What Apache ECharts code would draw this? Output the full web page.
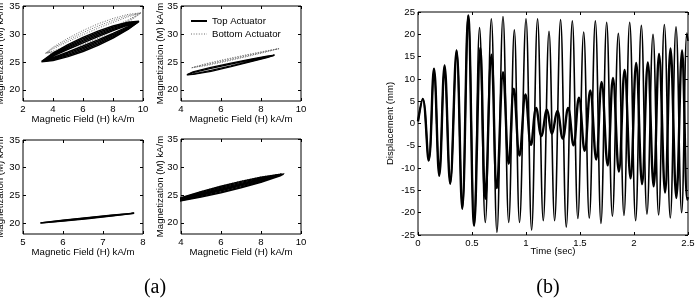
<!DOCTYPE html>
<html><head><meta charset="utf-8">
<script src="https://cdn.jsdelivr.net/npm/echarts@6/dist/echarts.min.js"></script>
<style>html,body{margin:0;padding:0;background:#fff}#c{width:698px;height:304px}</style>
</head><body><div id="c"></div>
<script>
// ---------- Panel (a): hysteresis loops, [H (kA/m), M (kA/m)] ----------
const magTicks = [20, 25, 30, 35];
const tlTop = [
  [[3.23,25.04],[4,26.55],[5,28.08],[6,29.39],[7,30.50],[8,31.41],[9,32.10],[9.73,32.26],[9,30.80],[8,29.27],[7,27.96],[6,26.85],[5,25.94],[4,25.25],[3.23,25.04]],
  [[3.3,25.1],[4,26.43],[5,27.87],[6,29.15],[7,30.26],[8,31.20],[9,31.98],[9.7,32.2],[9,30.92],[8,29.48],[7,28.20],[6,27.09],[5,26.15],[4,25.37],[3.3,25.1]],
  [[3.35,25.15],[4,26.30],[5,27.67],[6,28.90],[7,30.01],[8,31.00],[9,31.85],[9.65,32.15],[9,31.05],[8,29.68],[7,28.45],[6,27.34],[5,26.35],[4,25.50],[3.35,25.15]],
  [[3.4,25.2],[4,26.18],[5,27.46],[6,28.66],[7,29.77],[8,30.79],[9,31.73],[9.6,32.1],[9,31.17],[8,29.89],[7,28.69],[6,27.58],[5,26.56],[4,25.62],[3.4,25.2]],
  [[3.45,25.25],[4,26.05],[5,27.26],[6,28.41],[7,29.52],[8,30.59],[9,31.60],[9.55,32.05],[9,31.30],[8,30.09],[7,28.94],[6,27.83],[5,26.76],[4,25.75],[3.45,25.25]]
];
const tlBottom = [
  [[3.5,26.55],[4,27.64],[5,29.24],[6,30.62],[7,31.81],[8,32.77],[9,33.50],[9.9,33.8],[9,32.06],[8,30.53],[7,29.23],[6,28.14],[5,27.26],[4,26.60],[3.5,26.55]],
  [[3.55,26.6],[4,27.48],[5,28.93],[6,30.24],[7,31.41],[8,32.42],[9,33.28],[9.85,33.75],[9,32.28],[8,30.88],[7,29.63],[6,28.52],[5,27.57],[4,26.76],[3.55,26.6]],
  [[3.6,26.65],[4,27.32],[5,28.63],[6,29.86],[7,31.02],[8,32.08],[9,33.06],[9.8,33.7],[9,32.50],[8,31.22],[7,30.02],[6,28.90],[5,27.87],[4,26.92],[3.6,26.65]]
];
const trTop = [
  [[4.29,22.7],[4.6,23.20],[5.5,24.02],[6.5,24.78],[7.5,25.49],[8.3,26.02],[8.68,26.2],[8.3,25.78],[7.5,25.03],[6.5,24.14],[5.5,23.32],[4.6,22.75],[4.29,22.7]],
  [[4.32,22.72],[4.6,23.08],[5.5,23.85],[6.5,24.62],[7.5,25.38],[8.3,25.96],[8.65,26.18],[8.3,25.84],[7.5,25.14],[6.5,24.30],[5.5,23.49],[4.6,22.82],[4.32,22.72]]
];
const trBottom = [
  [[4.54,23.95],[5.2,24.63],[6.2,25.45],[7.2,26.21],[8.2,26.93],[8.93,27.4],[8.2,26.73],[7.2,25.87],[6.2,25.05],[5.2,24.31],[4.54,23.95]],
  [[4.56,23.97],[5.2,24.53],[6.2,25.33],[7.2,26.11],[8.2,26.87],[8.9,27.38],[8.2,26.79],[7.2,25.97],[6.2,25.17],[5.2,24.41],[4.56,23.97]]
];
const blTop = [
  [[5.43,20.0],[6,20.51],[6.6,20.97],[7.2,21.38],[7.78,21.75],[7.2,21.24],[6.6,20.77],[6,20.33],[5.43,20.0]],
  [[5.45,20.02],[6,20.46],[6.6,20.91],[7.2,21.34],[7.75,21.73],[7.2,21.28],[6.6,20.83],[6,20.38],[5.45,20.02]]
];
const blBottom = [];
const brTop = [
  [[3.7,23.8],[4,24.48],[5,25.57],[6,26.54],[7,27.41],[8,28.16],[9,28.71],[9.13,28.7],[9,28.47],[8,27.26],[7,26.27],[6,25.38],[5,24.61],[4,23.94],[3.7,23.8]],
  [[3.75,23.85],[4,24.40],[5,25.43],[6,26.37],[7,27.24],[8,28.03],[9,28.67],[9.1,28.68],[9,28.51],[8,27.39],[7,26.44],[6,25.55],[5,24.75],[4,24.02],[3.75,23.85]],
  [[3.8,23.9],[4,24.32],[5,25.28],[6,26.19],[7,27.07],[8,27.89],[9,28.64],[9.08,28.66],[9,28.54],[8,27.53],[7,26.61],[6,25.73],[5,24.90],[4,24.10],[3.8,23.9]],
  [[3.85,23.95],[4,24.25],[5,25.15],[6,26.04],[7,26.92],[8,27.77],[9,28.61],[9.05,28.63],[9,28.57],[8,27.65],[7,26.76],[6,25.88],[5,25.03],[4,24.17],[3.85,23.95]]
];
const brBottom = [
  [[3.8,24.2],[5,25.62],[6,26.6],[7,27.47],[8,28.24],[9.2,28.85],[8,27.9],[7,27.0],[6,26.1],[5,25.2],[3.8,24.0]]
];

// ---------- Panel (b): displacement vs time (extrema) ----------
const timeMain = [0,0.044,0.099,0.148,0.197,0.246,0.298,0.357,0.41,0.465,0.52,0.57,0.623,0.679,0.731,0.787,0.84,0.892,0.94,1.0,1.052,1.107,1.16,1.213,1.265,1.32,1.373,1.429,1.48,1.534,1.586,1.642,1.694,1.747,1.8,1.855,1.907,1.96,2.015,2.068,2.12,2.176,2.228,2.281,2.336,2.389,2.441,2.49,2.5];
const dispMain = [0.5,5.5,-8.3,12.3,-11.7,13.0,-13.5,16.4,-19.1,24.2,-22.9,21.5,-22.2,23.5,-24.4,24.0,-22.2,21.0,-22.2,23.5,-23.9,23.5,-21.8,20.7,-21.8,23.3,-23.2,23.0,-21.3,20.5,-21.2,23.0,-22.4,22.7,-20.8,20.2,-20.6,22.7,-21.8,22.0,-20.3,20.0,-20.5,22.2,-21.2,21.7,-20.0,20.3,18.5];
const timeCtrl = [0,0.044,0.099,0.148,0.197,0.246,0.298,0.357,0.41,0.465,0.52,0.577,0.623,0.68,0.73,0.788,0.84,0.887,0.94,0.995,1.046,1.094,1.142,1.194,1.24,1.29,1.34,1.39,1.44,1.49,1.543,1.595,1.65,1.7,1.756,1.805,1.86,1.913,1.968,2.02,2.075,2.128,2.182,2.232,2.288,2.338,2.392,2.445,2.493,2.5];
const dispCtrl = [0.5,5.5,-8.3,12.3,-11.7,13.0,-13.5,16.4,-19.1,24.2,-22.9,17.0,-16.9,15.4,-14.5,11.5,-9.0,7.8,-7.2,6.5,-4.8,3.5,-2.8,3.1,-2.3,2.8,-3.4,3.5,-4.9,5.8,-6.1,7.4,-8.1,9.3,-9.4,10.2,-10.8,12.0,-12.3,13.6,-13.6,13.7,-14.1,15.6,-15.5,16.8,-16.7,16.4,-17.1,-16.5];
const timeTicks = {min: 0, max: 2.5, interval: 0.5};
const dispTicks = {min: -25, max: 25, interval: 5};

const FONT = 'Liberation Sans';
const FS = 9.6;
const panels = [
  {grid:{left:23,top:6,width:120,height:95}, x:[2,10,2], top:tlTop, bottom:tlBottom, yGap:18, w:1.5},
  {grid:{left:181,top:6,width:120,height:95}, x:[4,10,2], top:trTop, bottom:trBottom, yGap:15.5, w:1.3},
  {grid:{left:23,top:140,width:120,height:94}, x:[5,8,1], top:blTop, bottom:blBottom, yGap:18, w:1.4},
  {grid:{left:181,top:139,width:120,height:95}, x:[4,10,2], top:brTop, bottom:brBottom, yGap:15.5, w:1.4}
];

const grids = [], xAxes = [], yAxes = [], series = [];
const txt = {color:'#000', fontSize:FS, fontFamily:FONT};
const tick = {inside:true, length:3, lineStyle:{color:'#000', width:1}};
function addAxes(gi, xr, yr, xname, yname, xGap, yGap, yCustom) {
  const base = {type:'value', gridIndex:gi, splitLine:{show:false}, axisLine:{show:false, onZero:false}};
  xAxes.push(Object.assign({}, base, {min:xr[0], max:xr[1], interval:xr[2], position:'bottom',
    axisTick:tick, axisLabel:Object.assign({margin:3}, txt),
    name:xname, nameLocation:'middle', nameGap:xGap, nameMoveOverlap:false, nameTextStyle:txt}));
  xAxes.push(Object.assign({}, base, {min:xr[0], max:xr[1], interval:xr[2], position:'top',
    axisTick:tick, axisLabel:{show:false}}));
  const yl = Object.assign({margin:3}, txt);
  const yt = Object.assign({}, tick);
  const y0 = {min:yr[0], max:yr[1]};
  if (yCustom) { yl.customValues = yCustom; yt.customValues = yCustom; } else { y0.interval = yr[2]; }
  yAxes.push(Object.assign({}, base, y0, {position:'left', axisTick:yt, axisLabel:yl,
    name:yname, nameLocation:'middle', nameGap:yGap, nameRotate:90, nameMoveOverlap:false, nameTextStyle:txt}));
  yAxes.push(Object.assign({}, base, y0, {position:'right', axisTick:Object.assign({}, yt), axisLabel:{show:false}}));
}
const gridBase = {show:true, borderColor:'#000', borderWidth:1, backgroundColor:'#fff', containLabel:false, outerBoundsMode:'none'};

panels.forEach((p, i) => {
  grids.push(Object.assign({}, gridBase, p.grid));
  addAxes(i, p.x, [18,35], 'Magnetic Field (H) kA/m', 'Magnetization (M) kA/m', 13, p.yGap, magTicks);
  p.bottom.forEach(loop => series.push({type:'line', name:'Bottom Actuator', xAxisIndex:2*i, yAxisIndex:2*i,
    data:loop, symbol:'none', smooth:false, z:2, color:'#6a6a6a',
    lineStyle:{color:'#6a6a6a', width:1, type:[1,1.6]}}));
  p.top.forEach(loop => series.push({type:'line', name:'Top Actuator', xAxisIndex:2*i, yAxisIndex:2*i,
    data:loop, symbol:'none', smooth:false, z:3, color:'#000',
    lineStyle:{color:'#000', width:p.w}}));
});

// panel (b)
grids.push(Object.assign({}, gridBase, {left:418, top:12, width:270, height:223}));
addAxes(4, [timeTicks.min, timeTicks.max, timeTicks.interval], [dispTicks.min, dispTicks.max, dispTicks.interval],
  'Time (sec)', 'Displacement (mm)', 11, 23, null);
series.push({type:'line', name:'main', xAxisIndex:8, yAxisIndex:8, symbol:'none', smooth:0.4, z:2, color:'#000',
  data: timeMain.map((t, k) => [t, dispMain[k]]), lineStyle:{color:'#000', width:1.6}});
series.push({type:'line', name:'ctrl', xAxisIndex:8, yAxisIndex:8, symbol:'none', smooth:0.4, z:3, color:'#000',
  data: timeCtrl.map((t, k) => [t, dispCtrl[k]]), lineStyle:{color:'#000', width:2.4}});

const chart = echarts.init(document.getElementById('c'), null, {renderer:'canvas'});
chart.setOption({
  animation:false,
  backgroundColor:'#fff',
  grid:grids, xAxis:xAxes, yAxis:yAxes, series:series,
  legend:{orient:'vertical', left:190, top:16, padding:0, itemGap:3, itemWidth:16, itemHeight:9,
    textStyle:txt, selectedMode:false, itemStyle:{opacity:0},
    data:[{name:'Top Actuator', lineStyle:{width:2, color:'#000'}}, {name:'Bottom Actuator', lineStyle:{width:1, color:'#6a6a6a', type:[1,1.6]}}]},
  graphic:[
    {type:'text', x:155, y:288, style:{text:'(a)', fontSize:20, fontFamily:'Liberation Serif', fill:'#000', align:'center', verticalAlign:'middle', textAlign:'center', textVerticalAlign:'middle'}},
    {type:'text', x:548, y:288, style:{text:'(b)', fontSize:20, fontFamily:'Liberation Serif', fill:'#000', align:'center', verticalAlign:'middle', textAlign:'center', textVerticalAlign:'middle'}}
  ]
});
</script></body></html>
